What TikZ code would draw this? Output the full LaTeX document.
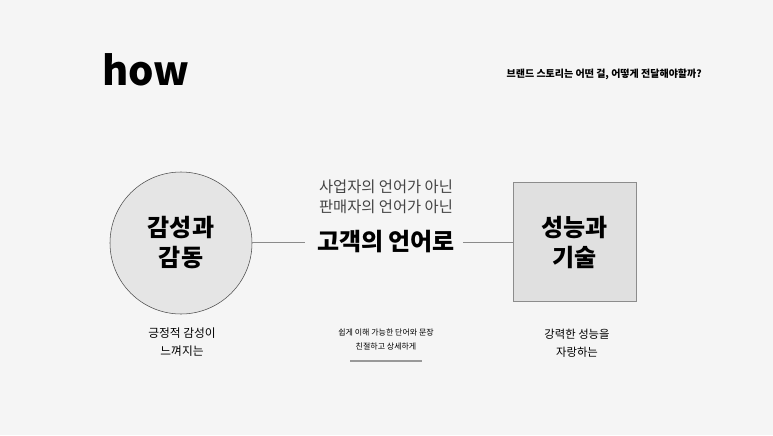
\documentclass[tikz,border=0pt]{standalone}
\usepackage{fontspec}
\setmainfont{Noto Sans CJK KR}
\usepackage{tikz}

\definecolor{bggray}{HTML}{F5F5F5}
\definecolor{linegray}{HTML}{8A8A8A}
\definecolor{txtgray}{HTML}{444444}

\begin{document}
\begin{tikzpicture}[x=0.75pt,y=-0.75pt,
  bigtxt/.style={align=center,font=\fontsize{18}{22.5}\selectfont\bfseries},
  subtxt/.style={align=center,font=\fontsize{8.8}{13.5}\selectfont},
  link/.style={draw=linegray,line width=0.6pt}]
\fill[bggray] (0,0) rectangle (773,435);
\node[anchor=base west,inner sep=0pt,font=\fontsize{30}{30}\selectfont\bfseries] (how) at (102,85) {how};
\node[anchor=east,inner sep=0pt,font=\fontsize{7.5}{8}\selectfont\bfseries] (ask) at (702,74) {브랜드 스토리는 어떤 걸, 어떻게 전달해야할까?};
\node[circle,draw=black!70,fill=black!10,minimum size=106.5pt,inner sep=0pt,bigtxt] (feel) at (181,243) {감성과\\감동};
\node[draw=black!45,fill=black!12,minimum width=92pt,minimum height=89pt,inner sep=0pt,bigtxt] (tech) at (574.5,242) {성능과\\기술};
\node[font=\fontsize{18}{18}\selectfont\bfseries,inner sep=6pt] (cust) at (386,242) {고객의 언어로};
\draw[link] (feel.east |- cust.west) -- ([xshift=-3pt]cust.west);
\draw[link] (cust.east) -- (tech.west |- cust.east);
\node[align=center,text=txtgray,font=\fontsize{11.5}{15}\selectfont] (notus) at (386,197) {사업자의 언어가 아닌\\판매자의 언어가 아닌};
\node[align=center,font=\fontsize{6}{10.5}\selectfont] (easy) at (386,339) {쉽게 이해 가능한 단어와 문장\\친절하고 상세하게};
\node[subtxt] (feelsub) at (182,342) {긍정적 감성이\\느껴지는};
\node[subtxt,font=\fontsize{8.5}{13.5}\selectfont] (techsub) at (577,343) {강력한 성능을\\자랑하는};
\coordinate (ula) at (350,361);
\coordinate (ulb) at (422,361);
\draw[draw=black!40,line width=1.1pt] (ula) -- (ulb);
\end{tikzpicture}
\end{document}
